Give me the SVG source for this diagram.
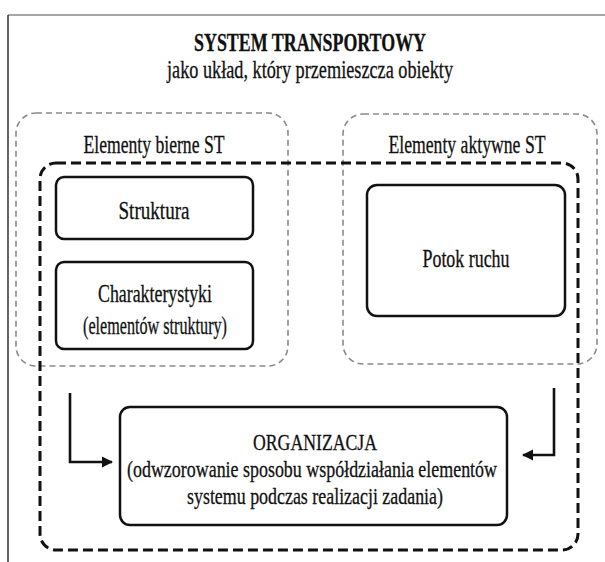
<svg xmlns="http://www.w3.org/2000/svg" width="605" height="562" viewBox="0 0 605 562">
<defs>
<style>
.t{font-family:"Liberation Serif","Times New Roman",serif;fill:#111;stroke:#111;stroke-width:0.3;text-anchor:middle}
.grp{fill:none;stroke:#8a8a8a;stroke-width:1.6;stroke-dasharray:6 4}
.org{fill:none;stroke:#111;stroke-width:3;stroke-dasharray:10 5}
.box{fill:#fff;stroke:#111;stroke-width:2.5}
.con{fill:none;stroke:#111;stroke-width:2.6}
</style>
<marker id="ah" viewBox="0 0 10 10" refX="9" refY="5" markerWidth="4.4" markerHeight="6" orient="auto" markerUnits="strokeWidth">
<path d="M0,0 L10,5 L0,10 z" fill="#111"/>
</marker>
</defs>
<rect width="605" height="562" fill="#fff"/>
<g id="frame">
<line x1="8" y1="15" x2="605" y2="15" stroke="#8a8a8a" stroke-width="1.5"/>
<line x1="8" y1="15" x2="8" y2="562" stroke="#333" stroke-width="1.5"/>
</g>
<g id="title">
<text class="t" x="310" y="51" font-size="25" font-weight="bold" textLength="232" lengthAdjust="spacingAndGlyphs">SYSTEM TRANSPORTOWY</text>
<text class="t" x="310" y="78" font-size="25" textLength="286" lengthAdjust="spacingAndGlyphs">jako układ, który przemieszcza obiekty</text>
</g>
<g id="bierne">
<rect class="grp" x="16" y="113" width="272" height="253" rx="20"/>
<text class="t" x="154" y="153" font-size="25" textLength="141" lengthAdjust="spacingAndGlyphs">Elementy bierne ST</text>
</g>
<g id="aktywne">
<rect class="grp" x="343" y="114" width="254" height="250" rx="20"/>
<text class="t" x="467" y="153" font-size="25" textLength="157" lengthAdjust="spacingAndGlyphs">Elementy aktywne ST</text>
</g>
<g id="system">
<rect class="org" x="40" y="163" width="538" height="387" rx="16"/>
</g>
<g id="struktura">
<rect class="box" x="56" y="177" width="197" height="62" rx="8"/>
<text class="t" x="154" y="219" font-size="25" textLength="71" lengthAdjust="spacingAndGlyphs">Struktura</text>
</g>
<g id="charakterystyki">
<rect class="box" x="56" y="262" width="197" height="87" rx="8"/>
<text class="t" x="155" y="302" font-size="25" textLength="114" lengthAdjust="spacingAndGlyphs">Charakterystyki</text>
<text class="t" x="155" y="334" font-size="25" textLength="144" lengthAdjust="spacingAndGlyphs">(elementów struktury)</text>
</g>
<g id="potok">
<rect class="box" x="367" y="185" width="198" height="131" rx="10"/>
<text class="t" x="466" y="267" font-size="25" textLength="87" lengthAdjust="spacingAndGlyphs">Potok ruchu</text>
</g>
<g id="organizacja">
<rect class="box" x="120" y="407" width="387" height="118" rx="10"/>
<text class="t" x="315" y="450" font-size="24" textLength="124" lengthAdjust="spacingAndGlyphs">ORGANIZACJA</text>
<text class="t" x="312" y="477" font-size="24" textLength="370" lengthAdjust="spacingAndGlyphs">(odwzorowanie sposobu współdziałania elementów</text>
<text class="t" x="315" y="504" font-size="24" textLength="256" lengthAdjust="spacingAndGlyphs">systemu podczas realizacji zadania)</text>
</g>
<g id="connectors">
<path class="con" d="M70,393 V462 H112" marker-end="url(#ah)"/>
<path class="con" d="M554,388 V455 H523" marker-end="url(#ah)"/>
</g>
</svg>
